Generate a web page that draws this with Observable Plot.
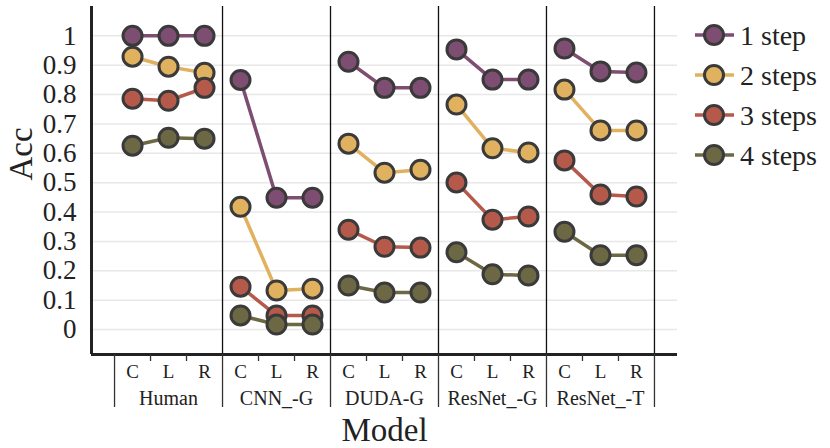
<!DOCTYPE html>
<html><head><meta charset="utf-8">
<script src="https://cdn.jsdelivr.net/npm/d3@7"></script>
<script src="https://cdn.jsdelivr.net/npm/@observablehq/plot@0.6"></script>
<style>body{margin:0;background:#fff;} #chart{position:relative;width:830px;height:448px;}
#chart svg, #chart svg text{font-family:"Liberation Serif", "Times New Roman", serif !important;}</style>
</head><body><div id="chart"></div>
<script>
const models = ["Human", "CNN_-G", "DUDA-G", "ResNet_-G", "ResNet_-T"];
const positions = ["C", "L", "R"];
const steps = ["1 step", "2 steps", "3 steps", "4 steps"];
const colors = ["#7d4d72", "#e0b15f", "#b55a4b", "#6c6844"];
// values per model: C, L, R
const step1 = [1, 1, 1, 0.85, 0.449, 0.449, 0.912, 0.823, 0.823, 0.954, 0.851, 0.851, 0.957, 0.879, 0.875];
const step2 = [0.929, 0.895, 0.874, 0.418, 0.133, 0.139, 0.633, 0.534, 0.544, 0.766, 0.617, 0.603, 0.817, 0.678, 0.678];
const step3 = [0.786, 0.779, 0.823, 0.146, 0.048, 0.048, 0.340, 0.282, 0.279, 0.501, 0.374, 0.385, 0.576, 0.460, 0.453];
const step4 = [0.626, 0.653, 0.650, 0.048, 0.017, 0.017, 0.150, 0.126, 0.126, 0.263, 0.188, 0.184, 0.333, 0.253, 0.253];
const yTicks = [0, 0.1, 0.2, 0.3, 0.4, 0.5, 0.6, 0.7, 0.8, 0.9, 1];

const series = [step1, step2, step3, step4];
const data = [];
series.forEach((vals, s) => vals.forEach((v, i) => data.push({
  step: steps[s], model: models[Math.floor(i / 3)], pos: positions[i % 3], i, acc: v
})));

const xDomain = [-1.14, 15.14];
const yDomain = [-0.085, 1.1];
const bounds = d3.range(models.length + 1).map(k => k * 3 - 0.5);
const inner = d3.range(models.length).flatMap(k => [k * 3 + 0.5, k * 3 + 1.5]);
const xIdx = d3.range(models.length * positions.length);
const font = "Liberation Serif";
const ink = "#222";

const marks = [
  Plot.gridY(yTicks, {stroke: "#e8e8e8", strokeOpacity: 1, strokeWidth: 1.5}),
  Plot.ruleX(bounds.slice(1), {stroke: "#111", strokeWidth: 1.3}),
  Plot.ruleX([xDomain[0]], {stroke: ink, strokeWidth: 3}),
  Plot.ruleY([yDomain[0]], {stroke: ink, strokeWidth: 3}),
  Plot.text(yTicks, {y: d => d, frameAnchor: "left", dx: -15, textAnchor: "end", text: d3.format("~g"), fontSize: 27, fill: ink}),
  Plot.axisX(bounds, {tickSize: 53, tickFormat: () => "", label: null, stroke: "#333", strokeWidth: 1.3}),
  Plot.axisX(inner, {tickSize: 7, tickFormat: () => "", label: null, stroke: "#333", strokeWidth: 1.3}),
  Plot.text(xIdx, {x: d => d, frameAnchor: "bottom", dy: 23, text: i => positions[i % 3], fontSize: 19, fill: ink}),
  Plot.text(models, {x: (d, k) => k * 3 + 1, frameAnchor: "bottom", dy: 50, fontSize: 20, fill: ink}),
  Plot.text(["Acc"], {frameAnchor: "left", dx: -70, rotate: -90, fontSize: 33, fill: ink}),
  Plot.text(["Model"], {frameAnchor: "bottom", dy: 86, fontSize: 33, fill: ink})
];
steps.forEach(st => {
  const d = data.filter(e => e.step === st);
  marks.push(Plot.line(d, {x: "i", y: "acc", z: "model", stroke: "step", strokeWidth: 3.5}));
  marks.push(Plot.dot(d, {x: "i", y: "acc", fill: "step", stroke: "#3a3a3a", strokeWidth: 3, r: 9.5, fillOpacity: 1}));
});

const chart = Plot.plot({
  width: 830, height: 448,
  marginLeft: 91, marginRight: 153, marginTop: 6, marginBottom: 94,
  style: {fontFamily: font, background: "#fff", overflow: "visible"},
  x: {type: "linear", domain: xDomain, axis: null},
  y: {domain: yDomain, axis: null},
  color: {domain: steps, range: colors},
  marks
});
document.getElementById("chart").appendChild(chart);

// legend
const svg = d3.select(chart);
const lg = svg.append("g");
steps.forEach((st, k) => {
  const y = 35 + k * 40;
  lg.append("line").attr("x1", 695).attr("x2", 734).attr("y1", y).attr("y2", y)
    .attr("stroke", colors[k]).attr("stroke-width", 3.5);
  lg.append("circle").attr("cx", 714).attr("cy", y).attr("r", 9.5)
    .attr("fill", colors[k]).attr("stroke", "#3a3a3a").attr("stroke-width", 3);
  lg.append("text").attr("x", 740).attr("y", y).attr("dy", "0.35em")
    .style("text-anchor", "start").style("font-size", "28px").attr("fill", ink).text(st);
});
</script></body></html>
